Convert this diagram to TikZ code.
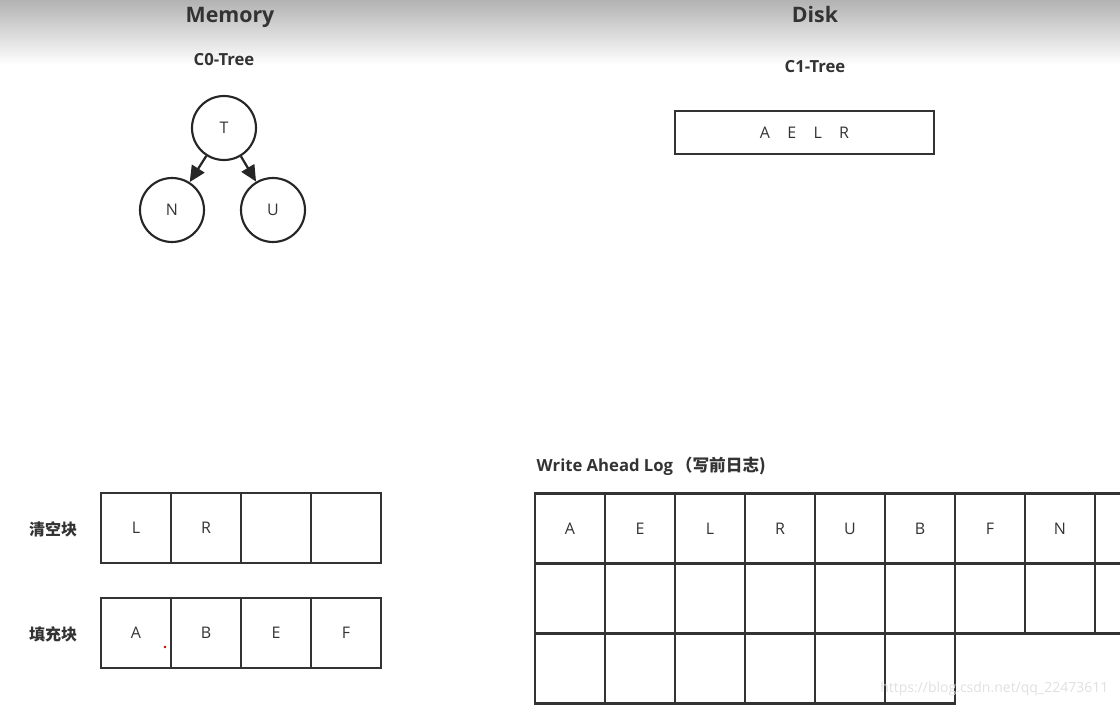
\documentclass[tikz,border=0pt]{standalone}
\usepackage{fontspec}
\setmainfont{Open Sans}
\newfontfamily\cjk{Noto Sans CJK SC}
\usetikzlibrary{arrows.meta}

\begin{document}
\begin{tikzpicture}[x=0.75pt,y=-0.75pt,
  cell/.style={draw=black!80, line width=1.6pt, minimum width=52.5pt, minimum height=52.5pt, inner sep=0pt, font=\fontsize{12}{14}\selectfont, text=black!80},
  leaf/.style={circle, draw=black!85, line width=1.6pt, minimum size=48pt, inner sep=0pt, font=\fontsize{12}{14}\selectfont, text=black!80},
  head/.style={font=\bfseries\fontsize{16}{19}\selectfont, text=black!80, anchor=base},
  sub/.style={font=\bfseries\fontsize{12.5}{15}\selectfont, text=black!80},
  side/.style={font=\cjk\bfseries\fontsize{12}{14}\selectfont, text=black!80}]
\useasboundingbox (0,0) rectangle (1120,707);
\clip (0,0) rectangle (1120,707);
\shade[top color=black!30, bottom color=white] (0,0) rectangle (1120,65);
% titles
\node[head] (mem) at (230,22) {Memory};
\node[head] (disk) at (815,22) {Disk};
\node[sub] (c0) at (224,60) {C0-Tree};
\node[sub] (c1) at (815,67) {C1-Tree};
% C0 tree
\node[leaf] (t) at (224,128) {T};
\node[leaf] (n) at (172,210) {N};
\node[leaf] (u) at (273,210) {U};
\draw[line width=1.7pt, draw=black!85, -{Triangle[length=12pt,width=11pt]}] (t) -- (n);
\draw[line width=1.7pt, draw=black!85, -{Triangle[length=12pt,width=11pt]}] (t) -- (u);
% C1 tree
\node[cell, minimum width=194pt, minimum height=32pt] (aelr) at (804.5,132.5) {A\hspace{13pt}E\hspace{13pt}L\hspace{13pt}R};
% memory blocks
\node[side] (qk) at (53,529) {清空块};
\node[side] (tc) at (53,634) {填充块};
\foreach \l [count=\i] in {L,R,{},{}}
  \node[cell] (qk\i) at (66+70*\i,528) {\l};
\foreach \l [count=\i] in {A,B,E,F}
  \node[cell] (tc\i) at (66+70*\i,633) {\l};
\fill[red!75!black] (165,647) circle (1.4);
% write ahead log
\node[sub, anchor=west] (wal) at (532,466) {Write Ahead Log\,{\cjk（写前日志)}};
\foreach \l [count=\i] in {A,E,L,R,U,B,F,N,{}}
  \node[cell] (w1\i) at (500+70*\i,528.5) {\l};
\foreach \i in {1,...,9}
  \node[cell] (w2\i) at (500+70*\i,598.5) {};
\foreach \i in {1,...,6}
  \node[cell] (w3\i) at (500+70*\i,668.5) {};
\node[text=black!12, anchor=east, font=\fontsize{10.5}{12}\selectfont] (wm) at (1113,689) {https://blog.csdn.net/qq\_22473611};
\end{tikzpicture}
\end{document}
